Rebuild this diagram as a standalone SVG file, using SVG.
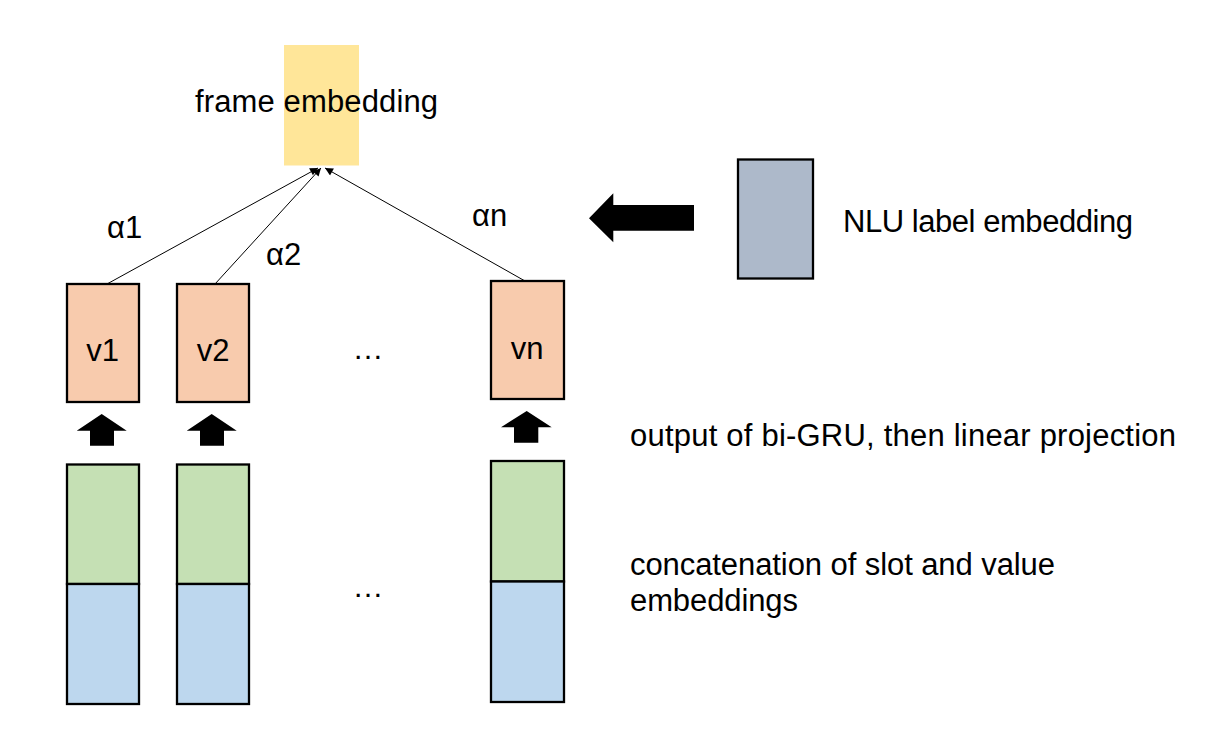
<svg xmlns="http://www.w3.org/2000/svg" width="1231" height="741" viewBox="0 0 1231 741">
  <defs>
    <style>
      .t { font-family: "Liberation Sans", Arial, sans-serif; font-size: 31px; fill: #000; }
      .box { stroke: #000; stroke-width: 2.3; }
      .v { fill: #F8CBAD; }
      .g { fill: #C5E0B4; }
      .b { fill: #BDD7EE; }
      .n { fill: #ADB9CA; }
      .conn { stroke: #000; stroke-width: 1; fill: none; marker-end: url(#ah); }
      .blk { fill: #000; }
    </style>
    <marker id="ah" viewBox="0 0 10 10" refX="10" refY="5" markerWidth="10" markerHeight="8" markerUnits="userSpaceOnUse" orient="auto">
      <path d="M0,0 L10,5 L0,10 z" fill="#000"/>
    </marker>
  </defs>
  <rect width="1231" height="741" fill="#fff"/>

  <g id="frame">
    <rect x="284" y="45" width="75" height="120.5" fill="#FFE699"/>
    <text class="t" x="195" y="112" textLength="243">frame embedding</text>
  </g>

  <g id="connectors">
    <line class="conn" x1="107" y1="284" x2="318" y2="168"/>
    <line class="conn" x1="215" y1="284" x2="321" y2="168"/>
    <line class="conn" x1="525" y1="281" x2="325" y2="168"/>
    <text class="t" x="107" y="238" font-size="30">α1</text>
    <text class="t" x="266" y="265" font-size="30">α2</text>
    <text class="t" x="472" y="226" font-size="30">αn</text>
  </g>

  <g id="nlu">
    <rect class="box n" x="738" y="159.5" width="75" height="119"/>
    <text class="t" x="843" y="232" textLength="290">NLU label embedding</text>
  </g>
  <polygon id="nlu-arrow" class="blk" points="589,218.3 613.3,193.3 613.3,205 694,205 694,230.7 613.3,230.7 613.3,242.3"/>

  <g id="v1">
    <rect class="box v" x="67" y="284" width="72" height="118"/>
    <text class="t" x="102.5" y="361" text-anchor="middle" font-size="30">v1</text>
  </g>
  <g id="v2">
    <rect class="box v" x="177" y="284" width="72" height="118"/>
    <text class="t" x="213" y="361" text-anchor="middle" font-size="30">v2</text>
  </g>
  <g id="vn">
    <rect class="box v" x="491" y="281" width="73" height="118"/>
    <text class="t" x="527" y="359" text-anchor="middle" font-size="30">vn</text>
  </g>
  <text class="t" x="368" y="359" text-anchor="middle" font-size="30">…</text>

  <g id="up-arrows">
    <polygon class="blk" points="101.7,414 126.7,430.7 114,430.7 114,445.7 90,445.7 90,430.7 76.7,430.7"/>
    <polygon class="blk" points="211.7,414 236.7,430.7 224,430.7 224,445.7 200,445.7 200,430.7 186.7,430.7"/>
    <polygon class="blk" points="526.7,411 551.7,427.3 538.3,427.3 538.3,442.7 514,442.7 514,427.3 501,427.3"/>
  </g>

  <g id="e1">
    <rect class="box g" x="67" y="464.5" width="72" height="119.5"/>
    <rect class="box b" x="67" y="584" width="72" height="120"/>
  </g>
  <g id="e2">
    <rect class="box g" x="177" y="464.5" width="72" height="119.5"/>
    <rect class="box b" x="177" y="584" width="72" height="120"/>
  </g>
  <g id="en">
    <rect class="box g" x="491" y="461" width="73" height="120.5"/>
    <rect class="box b" x="491" y="581.5" width="73" height="120.5"/>
  </g>
  <text class="t" x="368" y="597" text-anchor="middle" font-size="30">…</text>

  <g id="labels">
    <text class="t" x="630" y="446" textLength="546">output of bi-GRU, then linear projection</text>
    <text class="t" x="630" y="575" textLength="425">concatenation of slot and value</text>
    <text class="t" x="630" y="611" textLength="168">embeddings</text>
  </g>
</svg>
